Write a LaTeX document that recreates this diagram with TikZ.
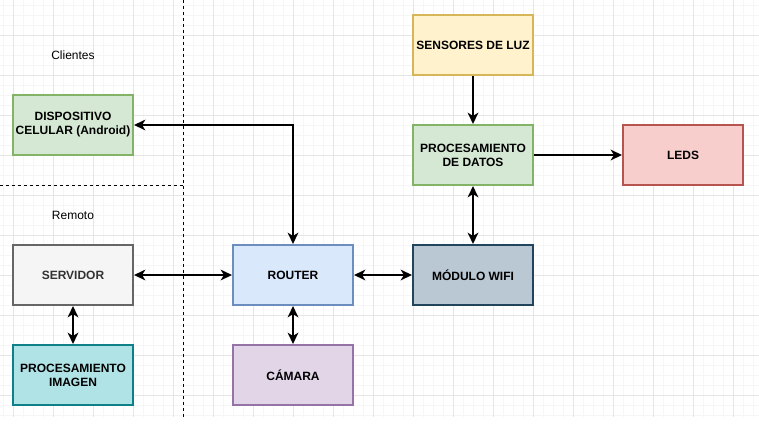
\documentclass[tikz,border=0pt]{standalone}
\usepackage{fontspec}
\setmainfont{Liberation Sans}
\usetikzlibrary{arrows.meta}
\definecolor{verdeF}{HTML}{D5E8D4}\definecolor{verdeB}{HTML}{82B366}
\definecolor{grisF}{HTML}{F5F5F5}\definecolor{grisB}{HTML}{666666}
\definecolor{grisT}{HTML}{333333}
\definecolor{tealF}{HTML}{B0E3E6}\definecolor{tealB}{HTML}{0E8088}
\definecolor{azulF}{HTML}{DAE8FC}\definecolor{azulB}{HTML}{6C8EBF}
\definecolor{moradoF}{HTML}{E1D5E7}\definecolor{moradoB}{HTML}{9673A6}
\definecolor{amarilloF}{HTML}{FFF2CC}\definecolor{amarilloB}{HTML}{D6B656}
\definecolor{rojoF}{HTML}{F8CECC}\definecolor{rojoB}{HTML}{B85450}
\definecolor{pizarraF}{HTML}{BAC8D3}\definecolor{pizarraB}{HTML}{23445D}
\definecolor{rejillaA}{HTML}{F6F6F6}\definecolor{rejillaB}{HTML}{E6E6E6}
\tikzset{
	bloque/.style={draw, line width=1.5pt, minimum width=90pt, minimum height=45pt, inner sep=1pt, align=center, font=\bfseries\fontsize{9}{10.5}\selectfont},
	etiqueta/.style={font=\fontsize{9}{10.5}\selectfont},
	flecha/.style={line width=1.5pt, -{Stealth[length=8.5pt,width=8pt,inset=2.5pt]}},
	dflecha/.style={line width=1.5pt, {Stealth[length=8.5pt,width=8pt,inset=2.5pt]}-{Stealth[length=8.5pt,width=8pt,inset=2.5pt]}},
	division/.style={line width=0.75pt, dash pattern=on 2.25pt off 2.25pt},
}
\begin{document}
\begin{tikzpicture}[x=0.75pt, y=-0.75pt]
		%%%%% START %%%%%
		\useasboundingbox[fill=white] (0,0) rectangle (759,429);
		
		% rejilla
		\foreach \x in {3,13,...,753} \draw[rejillaA, line width=0.75pt] (\x,0) -- (\x,417);
		\foreach \y in {5,15,...,415} \draw[rejillaA, line width=0.75pt] (0,\y) -- (759,\y);
		\foreach \x in {13,53,...,733} \draw[rejillaB, line width=0.75pt] (\x,0) -- (\x,417);
		\foreach \y in {35,75,...,395} \draw[rejillaB, line width=0.75pt] (0,\y) -- (759,\y);
		
		\draw[division] (183,0) -- (183,417);
		\draw[division] (0,185) -- (183,185);
		
		\node[etiqueta] (clientes) at (73,55) {Clientes};
		\node[etiqueta] (remoto) at (73,215) {Remoto};
		
		\node[bloque, fill=verdeF, draw=verdeB] (celular) at (73,125) {DISPOSITIVO\\CELULAR (Android)};
		\node[bloque, fill=grisF, draw=grisB, text=grisT] (servidor) at (73,275) {SERVIDOR};
		\node[bloque, fill=tealF, draw=tealB] (procimagen) at (73,375) {PROCESAMIENTO\\IMAGEN};
		\node[bloque, fill=azulF, draw=azulB] (router) at (293,275) {ROUTER};
		\node[bloque, fill=moradoF, draw=moradoB] (camara) at (293,375) {CÁMARA};
		\node[bloque, fill=amarilloF, draw=amarilloB] (sensores) at (473,45) {SENSORES DE LUZ};
		\node[bloque, fill=verdeF, draw=verdeB] (procdatos) at (473,155) {PROCESAMIENTO\\DE DATOS};
		\node[bloque, fill=rojoF, draw=rojoB] (leds) at (683,155) {LEDS};
		\node[bloque, fill=pizarraF, draw=pizarraB] (wifi) at (473,275) {MÓDULO WIFI};
		
		\draw[dflecha] (router.north) |- (celular.east);
		\draw[dflecha] (servidor) -- (router);
		\draw[dflecha] (servidor) -- (procimagen);
		\draw[dflecha] (router) -- (camara);
		\draw[dflecha] (router) -- (wifi);
		\draw[flecha] (sensores) -- (procdatos);
		\draw[dflecha] (procdatos) -- (wifi);
		\draw[flecha] (procdatos) -- (leds);
		
		%%%%% END %%%%%
	\end{tikzpicture}
\end{document}
